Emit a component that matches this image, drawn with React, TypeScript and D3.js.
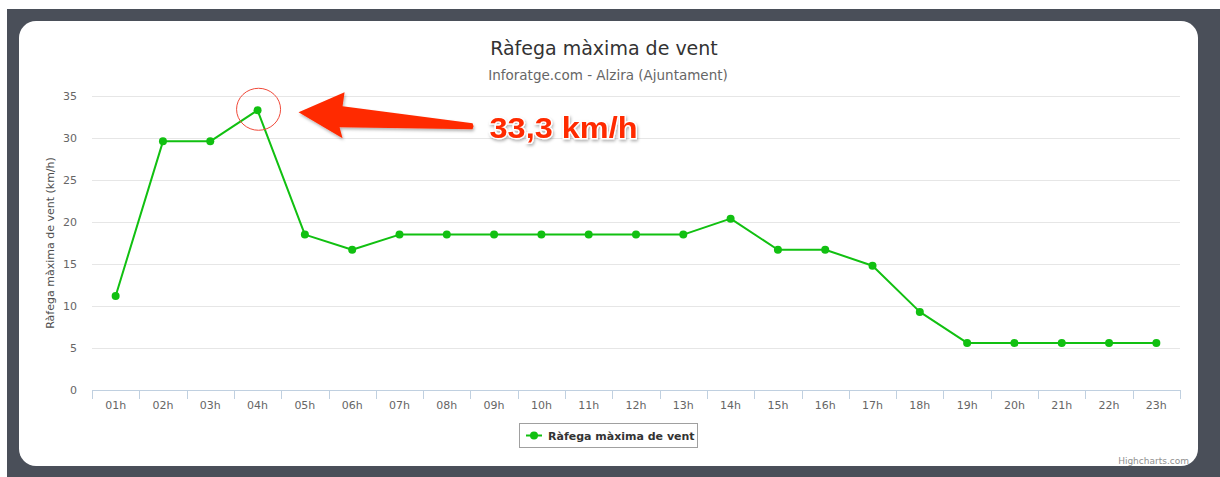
import React, { useRef, useEffect } from 'react'
import * as d3 from 'd3'

const hours = ['01h', '02h', '03h', '04h', '05h', '06h', '07h', '08h', '09h', '10h', '11h', '12h',
  '13h', '14h', '15h', '16h', '17h', '18h', '19h', '20h', '21h', '22h', '23h']
const gust = [11.2, 29.6, 29.6, 33.3, 18.5, 16.7, 18.5, 18.5, 18.5, 18.5, 18.5, 18.5,
  18.5, 20.4, 16.7, 16.7, 14.8, 9.3, 5.6, 5.6, 5.6, 5.6, 5.6]
const yTicks = [0, 5, 10, 15, 20, 25, 30, 35]
const peakLabel = '33,3 km/h'
const peakHour = '04h'

export default function App() {
  const ref = useRef<SVGSVGElement | null>(null)
  const W = 1220
  const H = 477

  useEffect(() => {
    const svg = d3.select(ref.current)
    svg.selectAll('*').remove()
    const font = '"DejaVu Sans", Verdana, sans-serif'
    const green = '#11c011'

    // frame + card
    svg.append('rect').attr('x', 7).attr('y', 9).attr('width', W - 7).attr('height', H - 9).attr('fill', '#4a4f59')
    svg.append('rect').attr('x', 19).attr('y', 21).attr('width', 1179).attr('height', 445)
      .attr('rx', 17).attr('fill', '#fff')

    const left = 92, right = 1180, top = 96, bottom = 390
    const x = d3.scaleBand().domain(hours).range([left, right])
    const y = d3.scaleLinear().domain([0, 35]).range([bottom, top])

    // title
    svg.append('text').attr('x', 604).attr('y', 55).attr('text-anchor', 'middle')
      .style('font-family', font).style('font-size', '19px').attr('fill', '#333')
      .text('Ràfega màxima de vent')
    svg.append('text').attr('x', 608).attr('y', 80).attr('text-anchor', 'middle')
      .style('font-family', font).style('font-size', '13.5px').attr('fill', '#666')
      .text('Inforatge.com - Alzira (Ajuntament)')

    // grid
    const g = svg.append('g')
    g.selectAll('line.grid').data(yTicks.filter(t => t > 0)).enter().append('line')
      .attr('x1', left).attr('x2', right)
      .attr('y1', d => y(d) + 0.5).attr('y2', d => y(d) + 0.5)
      .attr('stroke', '#e6e6e6').attr('stroke-width', 1)

    g.selectAll('text.ytick').data(yTicks).enter().append('text')
      .attr('x', 77).attr('y', d => y(d) + 4).attr('text-anchor', 'end')
      .style('font-family', font).style('font-size', '11px').attr('fill', '#666')
      .text(d => d)

    // x axis
    g.append('line').attr('x1', left).attr('x2', right).attr('y1', bottom + 0.5).attr('y2', bottom + 0.5)
      .attr('stroke', '#c0d0e0')
    const bounds = hours.map(h => x(h) as number).concat([right])
    g.selectAll('line.xtick').data(bounds).enter().append('line')
      .attr('x1', d => Math.round(d) + 0.5).attr('x2', d => Math.round(d) + 0.5)
      .attr('y1', bottom).attr('y2', bottom + 9)
      .attr('stroke', '#c0d0e0')
    g.selectAll('text.xlab').data(hours).enter().append('text')
      .attr('x', d => (x(d) as number) + x.bandwidth() / 2).attr('y', 409)
      .attr('text-anchor', 'middle')
      .style('font-family', font).style('font-size', '11px').attr('fill', '#666')
      .text(d => d)

    // y title
    svg.append('text').attr('transform', `translate(54,${(top + bottom) / 2}) rotate(-90)`)
      .attr('text-anchor', 'middle')
      .style('font-family', font).style('font-size', '11px').attr('fill', '#4d4d4d')
      .text('Ràfega màxima de vent (km/h)')

    // series
    const cx = (d: string) => (x(d) as number) + x.bandwidth() / 2
    const line = d3.line<number>().x((d, i) => cx(hours[i])).y(d => y(d))
    svg.append('path').datum(gust).attr('d', line).attr('fill', 'none')
      .attr('stroke', green).attr('stroke-width', 2).attr('stroke-linejoin', 'round')
    svg.selectAll('circle.pt').data(gust).enter().append('circle')
      .attr('cx', (d, i) => cx(hours[i])).attr('cy', d => y(d)).attr('r', 4).attr('fill', green)

    // legend
    svg.append('rect').attr('x', 519.5).attr('y', 423.5).attr('width', 178).attr('height', 24)
      .attr('fill', '#fff').attr('stroke', '#a0a0a0')
    svg.append('line').attr('x1', 526).attr('x2', 542).attr('y1', 435.5).attr('y2', 435.5)
      .attr('stroke', green).attr('stroke-width', 2)
    svg.append('circle').attr('cx', 534).attr('cy', 435.5).attr('r', 4).attr('fill', green)
    svg.append('text').attr('x', 548).attr('y', 440)
      .style('font-family', font).style('font-size', '11px').style('font-weight', 'bold').attr('fill', '#333')
      .text('Ràfega màxima de vent')

    // credits
    svg.append('text').attr('x', 1189).attr('y', 464).attr('text-anchor', 'end')
      .style('font-family', font).style('font-size', '9px').attr('fill', '#909090')
      .text('Highcharts.com')

    // annotation around the peak
    const peakIdx = hours.indexOf(peakHour)
    const px = cx(peakHour)
    const py = y(gust[peakIdx])
    svg.append('ellipse').attr('cx', px + 1).attr('cy', py - 1).attr('rx', 22).attr('ry', 21)
      .attr('fill', 'none').attr('stroke', '#f04a3a').attr('stroke-width', 1)

    const defs = svg.append('defs')
    const f = defs.append('filter').attr('id', 'sh').attr('x', '-20%').attr('y', '-40%')
      .attr('width', '140%').attr('height', '180%')
    f.append('feDropShadow').attr('dx', 1).attr('dy', 2).attr('stdDeviation', 1.5)
      .attr('flood-color', '#000').attr('flood-opacity', 0.3)

    const arrow: [number, number][] = [
      [41, 2], [87, -18], [85, -4], [215, 13], [216, 16], [215, 19], [82, 17], [85, 28]
    ]
    svg.append('path')
      .attr('d', 'M' + arrow.map(p => `${px + p[0]},${py + p[1]}`).join('L') + 'Z')
      .attr('fill', '#ff2a00').attr('filter', 'url(#sh)')

    svg.append('text').attr('x', px + 232).attr('y', py + 28)
      .attr('textLength', 148).attr('lengthAdjust', 'spacingAndGlyphs')
      .style('font-family', '"Liberation Sans", Arial, sans-serif').style('font-size', '29px')
      .style('font-weight', 'bold')
      .attr('fill', '#ff2a00').attr('stroke', '#fff').attr('stroke-width', 2.5)
      .attr('paint-order', 'stroke').attr('filter', 'url(#sh)')
      .text(peakLabel)
  }, [])

  return (
    <div style={{ position: 'absolute', left: 0, top: 0 }}>
      <svg ref={ref} width={W} height={H} style={{ display: 'block', background: '#fff' }} />
    </div>
  )
}
